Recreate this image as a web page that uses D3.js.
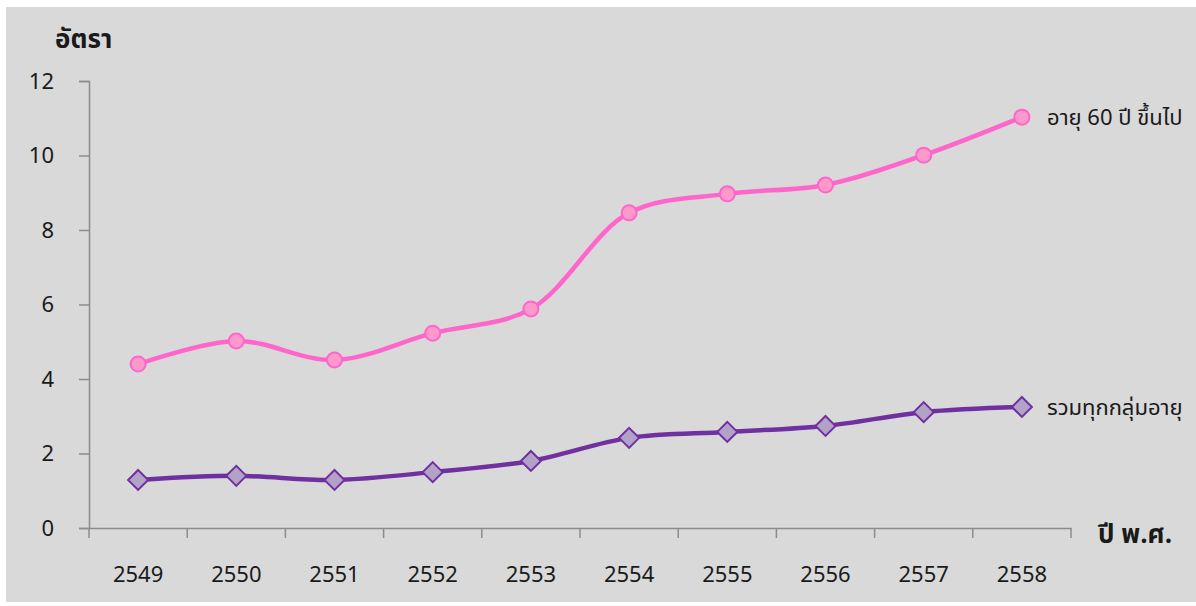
<!DOCTYPE html>
<html><head><meta charset="utf-8">
<script src="https://cdn.jsdelivr.net/npm/d3@7"></script>
<style>body{margin:0;background:#fff;}svg{display:block;}text{font-family:"Noto Sans Thai","Noto Sans","Tahoma",sans-serif;fill:#1a1a1a;}</style>
</head><body>
<svg id="c" width="1196" height="606"></svg>
<script>
const years = ["2549","2550","2551","2552","2553","2554","2555","2556","2557","2558"];
const elderly = [4.40, 5.02, 4.51, 5.23, 5.88, 8.46, 8.97, 9.21, 10.01, 11.03];
const allAges = [1.29, 1.40, 1.29, 1.50, 1.80, 2.42, 2.58, 2.74, 3.11, 3.25];
const yTicks = [0, 2, 4, 6, 8, 10, 12];
const seriesNames = ["อายุ 60 ปี ขึ้นไป", "รวมทุกกลุ่มอายุ"];
const yTitle = "อัตรา";
const xTitle = "ปี พ.ศ.";

const svg = d3.select("#c");
svg.append("rect").attr("x",6).attr("y",7).attr("width",1190).attr("height",595).attr("fill","#d9d9d9");

const x = d3.scaleBand().domain(years).range([89, 1071]);
const y = d3.scaleLinear().domain([0, 12]).range([528, 81]);

const yAxis = svg.append("g").attr("transform","translate(89,0)")
  .call(d3.axisLeft(y).tickValues(yTicks).tickSize(10).tickPadding(25).tickFormat(d3.format("d")));
yAxis.select(".domain").attr("stroke","#8c8c8c").attr("stroke-width",1.5);
yAxis.selectAll(".tick line").attr("stroke","#8c8c8c").attr("stroke-width",1.5);
yAxis.selectAll(".tick text").attr("font-size",22).attr("fill","#1a1a1a").style("font-family","Noto Sans, sans-serif");

const xAxis = svg.append("g").attr("transform","translate(0,528)")
  .call(d3.axisBottom(x).tickSize(0).tickPadding(38));
xAxis.select(".domain").attr("stroke","#8c8c8c").attr("stroke-width",1.5);
xAxis.selectAll(".tick text").attr("font-size",22).attr("fill","#1a1a1a").style("font-family","Noto Sans, sans-serif");
// category boundary ticks
const bounds = years.map(d => x(d)).concat([x.range()[1]]);
svg.append("g").selectAll("line").data(bounds).join("line")
  .attr("x1", d=>d).attr("x2", d=>d).attr("y1",528).attr("y2",538)
  .attr("stroke","#8c8c8c").attr("stroke-width",1.5);

const cx = d => x(d) + x.bandwidth()/2;
const line = d3.line().curve(d3.curveCatmullRom.alpha(0.5));

const pinkPts = years.map((d,i)=>[cx(d), y(elderly[i])]);
const purplePts = years.map((d,i)=>[cx(d), y(allAges[i])]);

svg.append("path").attr("d", line(pinkPts)).attr("fill","none").attr("stroke","#ff66cc").attr("stroke-width",4.5);
svg.append("path").attr("d", line(purplePts)).attr("fill","none").attr("stroke","#7030a0").attr("stroke-width",4.5);

svg.append("g").selectAll("circle").data(pinkPts).join("circle")
  .attr("cx", d=>d[0]).attr("cy", d=>d[1]).attr("r",7.5)
  .attr("fill","#ff99cc").attr("stroke","#ff66cc").attr("stroke-width",2);

svg.append("g").selectAll("path").data(purplePts).join("path")
  .attr("d", d=>`M${d[0]},${d[1]-10}L${d[0]+10},${d[1]}L${d[0]},${d[1]+10}L${d[0]-10},${d[1]}Z`)
  .attr("fill","#b3a2c7").attr("stroke","#7030a0").attr("stroke-width",2);

const last = years.length-1;
svg.append("text").attr("x",1047).attr("y",pinkPts[last][1]+8).attr("font-size",22).text(seriesNames[0]);
svg.append("text").attr("x",1047).attr("y",purplePts[last][1]+8).attr("font-size",22).text(seriesNames[1]);

svg.append("text").attr("x",55).attr("y",48).attr("font-size",26).attr("font-weight","bold").text(yTitle);
svg.append("text").attr("x",1098).attr("y",543).attr("font-size",26).attr("font-weight","bold").text(xTitle);
</script>
</body></html>
